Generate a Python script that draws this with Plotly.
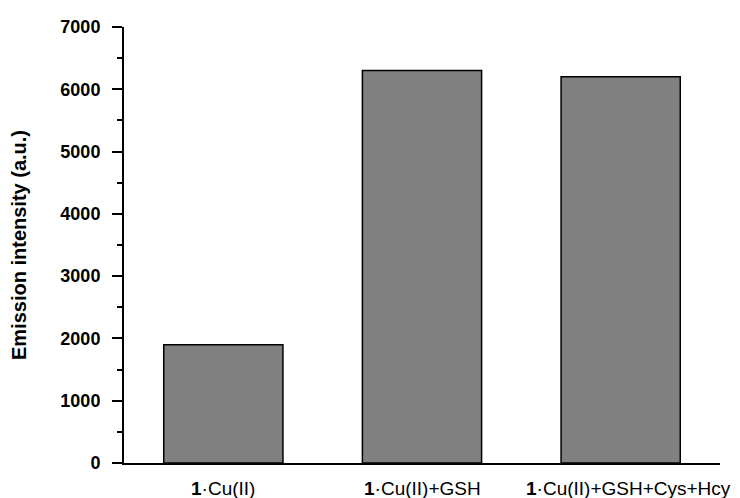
import plotly.graph_objects as go

categories = ["<b>1</b>·Cu(II)", "<b>1</b>·Cu(II)+GSH", "<b>1</b>·Cu(II)+GSH+Cys+Hcy"]
values = [1900, 6300, 6200]
y_ticks = [0, 1000, 2000, 3000, 4000, 5000, 6000, 7000]
label_shift = [0, 0, 8]

fig = go.Figure(go.Bar(
    x=categories, y=values, width=0.6,
    marker=dict(color="#808080", line=dict(color="black", width=1.5)),
))

for cat, sh in zip(categories, label_shift):
    fig.add_annotation(
        x=cat, xref="x", y=0, yref="paper", yanchor="middle", yshift=-25,
        xshift=sh, text=cat, showarrow=False, font=dict(size=19),
    )

fig.update_layout(
    width=740, height=498,
    margin=dict(l=116, r=28, t=19, b=43, autoexpand=False),
    plot_bgcolor="white", paper_bgcolor="white",
    font=dict(family="Liberation Sans, Arial", color="black"),
    showlegend=False,
)
fig.update_xaxes(
    range=[-0.5, 2.5], showline=True, linecolor="black", linewidth=1.5,
    ticks="", showgrid=False, showticklabels=False, zeroline=False,
    automargin=False,
)
fig.update_yaxes(
    range=[0, 7000], tickvals=y_ticks, showline=True, linecolor="black", linewidth=2,
    ticks="outside", ticklen=10, tickwidth=2, tickcolor="black",
    minor=dict(ticks="outside", ticklen=5, tickwidth=2, tickcolor="black", dtick=500),
    showgrid=False, zeroline=False, automargin=False,
    tickfont=dict(size=18, weight="bold"), ticklabelstandoff=8,
    title=dict(text="<b>Emission intensity (a.u.)</b>", font=dict(size=20), standoff=29),
)
fig.write_html("out.html")
